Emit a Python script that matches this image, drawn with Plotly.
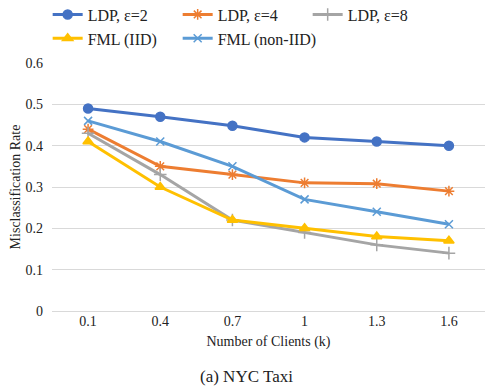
import plotly.graph_objects as go

categories = ["0.1", "0.4", "0.7", "1", "1.3", "1.6"]
ldp2 = [0.49, 0.47, 0.448, 0.42, 0.41, 0.40]
ldp4 = [0.44, 0.35, 0.33, 0.31, 0.308, 0.29]
ldp8 = [0.43, 0.33, 0.22, 0.19, 0.16, 0.14]
fml_iid = [0.41, 0.30, 0.22, 0.20, 0.18, 0.17]
fml_noniid = [0.46, 0.41, 0.35, 0.27, 0.24, 0.21]
y_ticks = [0, 0.1, 0.2, 0.3, 0.4, 0.5, 0.6]

series = [
    ("LDP, ε=2", ldp2, "#4472C4", "circle", 9),
    ("LDP, ε=4", ldp4, "#ED7D31", "asterisk-open", 9),
    ("LDP, ε=8", ldp8, "#A5A5A5", "cross-thin-open", 9),
    ("FML (IID)", fml_iid, "#FFC000", "triangle-up", 9),
    ("FML (non-IID)", fml_noniid, "#5B9BD5", "x-thin-open", 8),
]

fig = go.Figure()
for name, vals, color, sym, size in series:
    fig.add_trace(go.Scatter(
        x=categories, y=vals, name=name, mode="lines+markers",
        line=dict(color=color, width=3),
        marker=dict(symbol=sym, size=size, color=color,
                    line=dict(color=color, width=1.5)),
    ))

font = "Liberation Serif"
fig.update_layout(
    width=488, height=383,
    margin=dict(l=44, r=11, t=55, b=80, autoexpand=False),
    paper_bgcolor="white", plot_bgcolor="white",
    font=dict(family=font, size=14, color="#222"),
    showlegend=True,
    legend=dict(orientation="h", x=-0.01, xanchor="left", y=1.03, yanchor="bottom",
                entrywidth=85, font=dict(size=16, family=font),
                tracegroupgap=0, itemwidth=30, bgcolor="rgba(0,0,0,0)"),
    xaxis=dict(type="category", range=[-0.5, 5.5], showgrid=False, showline=False,
               ticks="", tickfont=dict(size=14), zeroline=False,
               title=dict(text="Number of Clients (k)", font=dict(size=14), standoff=8)),
    yaxis=dict(range=[0, 0.6], tickvals=y_ticks, ticktext=[f"{v:g}" for v in y_ticks],
               showgrid=True, gridcolor="#d9d9d9", gridwidth=1, zeroline=True,
               zerolinecolor="#d9d9d9", zerolinewidth=1, showline=False, ticks="",
               ticklabelstandoff=8, tickfont=dict(size=14),
               title=dict(text="Misclassification Rate", font=dict(size=14), standoff=8)),
    annotations=[dict(text="(a) NYC Taxi", xref="paper", yref="paper",
                      x=0.45, y=-0.266, xanchor="center", yanchor="middle",
                      showarrow=False, font=dict(size=17, family=font))],
)

fig.write_html("out.html")
